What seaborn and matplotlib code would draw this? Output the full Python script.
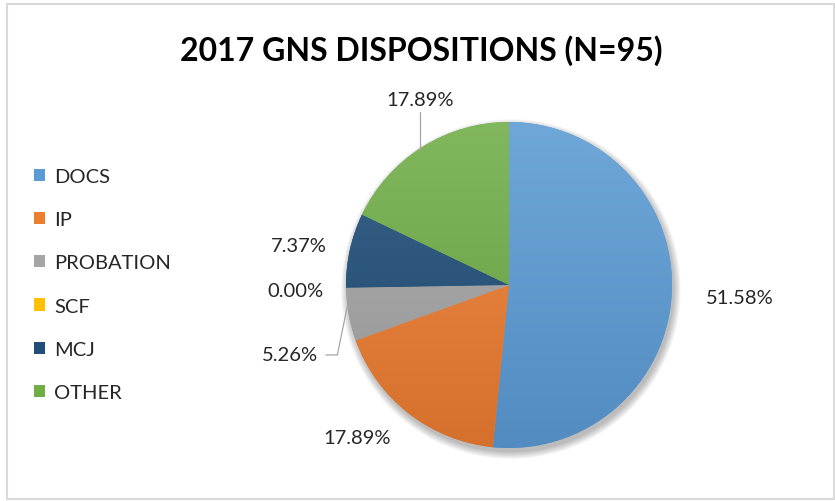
"""
plot.py
2017 GNS dispositions pie chart (Excel look-alike).
"""

import numpy as np
import matplotlib
matplotlib.use("Agg")   # headless
import matplotlib.pyplot as plt
import seaborn as sns
from matplotlib.colors import to_rgb
from matplotlib.patches import Patch, Rectangle, Circle

# ── Data ──────────────────────────────────────────────────────────────────
categories = ["DOCS", "IP", "PROBATION", "SCF", "MCJ", "OTHER"]
counts     = [49, 17, 5, 0, 7, 17]          # N = 95
colors     = ["#5B9BD5", "#ED7D31", "#A5A5A5", "#FFC000", "#1F4E79", "#70AD47"]
title      = "2017 GNS DISPOSITIONS (N=95)"

# label placement tweaks (radial distance, angle shift in degrees)
label_dist  = [1.42, 1.32, 1.41, 1.31, 1.31, 1.26]
label_shift = [-0.2, -7.0, 7.3, 0.5, 1.6, -6.5]

sns.set_theme(style="white")
plt.rcParams["font.family"] = ["Lato", "DejaVu Sans"]

W, H = 835, 502
R = 163.0           # pie radius in px
CX, CY = 509, 286   # pie centre in px

fig = plt.figure(figsize=(W / 100, H / 100), dpi=100)
ax = fig.add_axes([0, 0, 1, 1])

# shadow under the pie
for i in range(8):
    ax.add_patch(Circle((0.012, -0.025), 1.0 + 0.006 * i, color="black",
                        alpha=0.035, lw=0, zorder=0))

wedges, _ = ax.pie(counts, colors=colors, startangle=90, counterclock=False,
                   radius=1, wedgeprops=dict(linewidth=0))

# vertical gradient fill, lighter on top, darker at the bottom
t = np.linspace(0, 1, 256)[:, None]
for w, c in zip(wedges, colors):
    base = np.array(to_rgb(c))
    top = base + (1 - base) * 0.12
    bot = base * 0.90
    grad = top[None, None, :] * (1 - t[..., None]) + bot[None, None, :] * t[..., None]
    grad = np.repeat(grad, 2, axis=1)
    im = ax.imshow(grad, extent=(-1, 1, -1, 1), origin="upper",
                   aspect="auto", zorder=w.get_zorder() + 0.1)
    im.set_clip_path(w)

# percentage labels
total = sum(counts)
for w, v, d, s in zip(wedges, counts, label_dist, label_shift):
    mid = np.deg2rad((w.theta1 + w.theta2) / 2 + s)
    x, y = d * np.cos(mid), d * np.sin(mid)
    ax.text(x, y, f"{v / total * 100:.2f}%", ha="center", va="center",
            fontsize=14.5, color="#262626", zorder=5)

# leader lines for PROBATION and OTHER
line_kw = dict(color="#A6A6A6", lw=0.9, zorder=4)
w = wedges[2]
m = np.deg2rad((w.theta1 + w.theta2) / 2 - 3)
mid = np.deg2rad((w.theta1 + w.theta2) / 2 + label_shift[2])
lx, ly = label_dist[2] * np.cos(mid), label_dist[2] * np.sin(mid)
ax.plot([np.cos(m), lx + 0.29, lx + 0.22], [np.sin(m), ly, ly], **line_kw)

w = wedges[5]
mid = np.deg2rad((w.theta1 + w.theta2) / 2 + label_shift[5])
lx, ly = label_dist[5] * np.cos(mid), label_dist[5] * np.sin(mid)
ax.plot([lx, lx], [ly - 0.075, np.sqrt(1 - lx ** 2)], **line_kw)

ax.set_xlim(-CX / R, (W - CX) / R)
ax.set_ylim(-(H - CY) / R, CY / R)
ax.set_aspect("auto")
ax.set_axis_off()

# title
fig.text(421 / W, 1 - 51 / H, title, ha="center", va="center",
         fontsize=23, fontweight="bold", color="black")

# legend
handles = [Patch(facecolor=c, edgecolor="none") for c in colors]
fig.legend(handles, categories, loc="center left",
           bbox_to_anchor=(34 / W, 1 - 285.5 / H), frameon=False,
           fontsize=14.5, handlelength=0.55, handleheight=0.55,
           handletextpad=0.45, labelspacing=1.3, borderpad=0,
           borderaxespad=0, labelcolor="#262626")

# chart frame
fig.patches.append(Rectangle((7 / W, 2 / H), 827 / W, 495 / H,
                             transform=fig.transFigure, fill=False,
                             edgecolor="#D9D9D9", lw=1.5))

fig.savefig("out.png", dpi=100)
plt.close(fig)
